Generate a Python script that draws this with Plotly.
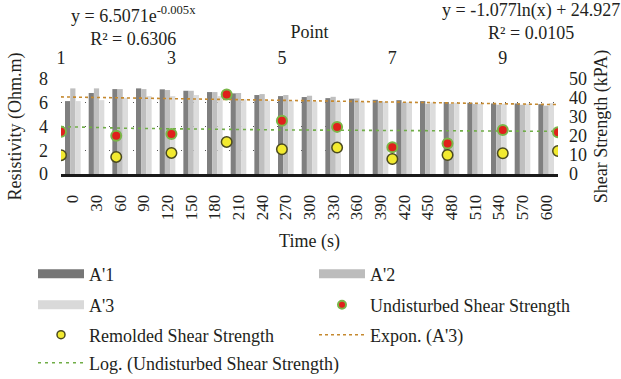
import numpy as np
import plotly.graph_objects as go

# ---------------- data ----------------
time_s = [0, 30, 60, 90, 120, 150, 180, 210, 240, 270, 300, 330, 360, 390, 420, 450, 480, 510, 540, 570, 600]
a1 = [6.14, 6.82, 7.15, 7.21, 7.13, 7.01, 6.90, 6.79, 6.65, 6.56, 6.48, 6.39, 6.34, 6.25, 6.22, 6.14, 6.06, 6.00, 5.94, 5.94, 5.88]
a2 = [7.21, 7.21, 7.15, 7.15, 7.07, 7.01, 6.90, 6.82, 6.73, 6.65, 6.59, 6.50, 6.37, 6.14, 6.03, 5.91, 5.91, 5.89, 5.83, 5.83, 5.75]
a3 = [6.14, 6.22, 6.42, 6.56, 6.56, 6.65, 6.56, 6.28, 6.17, 6.17, 6.11, 6.11, 6.08, 6.08, 6.03, 6.03, 6.00, 5.91, 5.91, 5.91, 5.97]

points = [1, 2, 3, 4, 5, 6, 7, 8, 9, 10]
undisturbed = [22.2, 20.1, 21.0, 41.9, 28.0, 24.8, 14.1, 16.0, 23.1, 22.0]
remolded = [9.9, 9.0, 11.1, 16.9, 13.0, 13.9, 7.9, 10.0, 10.9, 12.1]

point_ticks = [1, 3, 5, 7, 9]

# trendline coefficients (as printed on the chart)
exp_a, exp_b = 6.5071, -0.005
log_a, log_b = -1.077, 24.927

FONT = "Liberation Serif"
TXT = "#231f20"
C1, C2, C3 = "#7f7f7f", "#bfbfbf", "#dcdcdc"

W, H = 621, 379
ML, MR, MT, MB = 61, 63, 79, 205
PW, PH = W - ML - MR, H - MT - MB

idx = list(range(len(time_s)))

fig = go.Figure()

for name, vals, col in [("A'1", a1, C1), ("A'2", a2, C2), ("A'3", a3, C3)]:
    fig.add_trace(go.Bar(x=idx, y=vals, name=name, marker=dict(color=col, line=dict(width=0)),
                         showlegend=False))

# exponential trendline of A'3 (Excel x = category index + 1)
k = np.linspace(0.5, len(time_s) + 0.5, 200)
fig.add_trace(go.Scatter(x=k - 1, y=exp_a * np.exp(exp_b * k), mode="lines",
                         line=dict(color="#c5892f", width=1.6, dash="3px,3px"),
                         name="Expon. (A'3)", showlegend=False, hoverinfo="skip"))

# log trendline of undisturbed shear strength (secondary axes)
p = np.linspace(points[0], points[-1], 200)
fig.add_trace(go.Scatter(x=p, y=log_a * np.log(p) + log_b, mode="lines", xaxis="x2", yaxis="y2",
                         line=dict(color="#70ad47", width=1.6, dash="3px,4px"),
                         name="Log. (Undisturbed Shear Strength)", showlegend=False, hoverinfo="skip"))

fig.add_trace(go.Scatter(x=points, y=undisturbed, mode="markers", xaxis="x2", yaxis="y2",
                         marker=dict(size=10, color="#e0201b", line=dict(color="#7ab648", width=2)),
                         name="Undisturbed Shear Strength", showlegend=False))
fig.add_trace(go.Scatter(x=points, y=remolded, mode="markers", xaxis="x2", yaxis="y2",
                         marker=dict(size=10.5, color="#f2ea30", line=dict(color="#4a4a20", width=1.5)),
                         name="Remolded Shear Strength", showlegend=False))

# legend-only entries, one legend per entry so each can be placed exactly
legends = {}

def legcfg(xpx, ypx):
    return dict(xref="paper", yref="paper", x=(xpx - ML) / PW, y=(MT + PH - ypx) / PH,
                xanchor="left", yanchor="middle", itemwidth=46,
                font=dict(family=FONT, size=18, color=TXT), bgcolor="rgba(0,0,0,0)",
                borderwidth=0)

def leg_line(name, color, width, dash, lg, xpx, ypx):
    fig.add_trace(go.Scatter(x=[None], y=[None], mode="lines", name=name, legend=lg,
                             line=dict(color=color, width=width, dash=dash)))
    legends[lg] = legcfg(xpx, ypx)

def leg_marker(name, color, lcolor, lw, size, lg, xpx, ypx):
    fig.add_trace(go.Scatter(x=[None], y=[None], mode="markers", name=name, legend=lg,
                             marker=dict(size=size, color=color, line=dict(color=lcolor, width=lw))))
    legends[lg] = legcfg(xpx, ypx)

XL, XR = 33, 314
leg_line("A'1", "#767676", 9, "solid", "legend", XL, 274)
leg_line("A'2", "#bcbcbc", 9, "solid", "legend2", XR, 274)
leg_line("A'3", "#d9d9d9", 9, "solid", "legend3", XL, 305)
leg_marker("Undisturbed Shear Strength", "#e0201b", "#7ab648", 2, 8, "legend4", XR, 305)
leg_marker("Remolded Shear Strength", "#f2ea30", "#4a4a20", 1.5, 8, "legend5", XL, 335)
leg_line("Expon. (A'3)", "#c5892f", 1.6, "3px,3px", "legend6", XR, 335)
leg_line("Log. (Undisturbed Shear Strength)", "#70ad47", 1.6, "3px,4px", "legend7", XL, 363)

fig.update_layout(
    width=W, height=H,
    margin=dict(l=ML, r=MR, t=MT, b=MB, autoexpand=False),
    paper_bgcolor="white", plot_bgcolor="white",
    font=dict(family=FONT, size=17, color=TXT),
    barmode="group", bargap=0.34, bargroupgap=0,
    xaxis=dict(range=[-0.5, len(time_s) - 0.5], tickvals=idx, ticktext=[str(t) for t in time_s],
               tickangle=-90, showgrid=False, showline=True, linecolor="#1a1a1a", linewidth=3,
               ticks="", ticklabelstandoff=11, tickfont=dict(size=17),
               title=dict(text="Time (s)", standoff=16, font=dict(size=18))),
    xaxis2=dict(overlaying="x", side="top", range=[points[0], points[-1]], tickvals=point_ticks,
                showgrid=False, showline=False, ticks="", zeroline=False, ticklabelstandoff=10,
                tickfont=dict(size=18),
                title=dict(text="Point", standoff=5, font=dict(size=18))),
    yaxis=dict(range=[0, 8], dtick=2, showgrid=True, gridcolor="#555", griddash="1px,11px",
               gridwidth=1, zeroline=False, showline=False, ticks="", ticklabelstandoff=12,
               tickfont=dict(size=18),
               title=dict(text="Resistivity (Ohm.m)", standoff=12, font=dict(size=18))),
    yaxis2=dict(overlaying="y", side="right", range=[0, 50], dtick=10, showgrid=False,
                zeroline=False, showline=False, ticks="", ticklabelstandoff=10,
                tickfont=dict(size=18),
                title=dict(text="Shear Strength (kPA)", standoff=8, font=dict(size=18))),
    showlegend=True,
    **legends,
)

fig.add_annotation(xref="paper", yref="paper", x=(133 - ML) / PW, y=1 + (MT - 26) / PH,
                   text="y = 6.5071e<sup>-0.005x</sup><br>R² = 0.6306", showarrow=False,
                   font=dict(family=FONT, size=18, color=TXT), align="center",
                   xanchor="center", yanchor="middle")
fig.add_annotation(xref="paper", yref="paper", x=(531 - ML) / PW, y=1 + (MT - 22) / PH,
                   text="y = -1.077ln(x) + 24.927<br>R² = 0.0105", showarrow=False,
                   font=dict(family=FONT, size=18, color=TXT), align="center",
                   xanchor="center", yanchor="middle")

fig.write_html("out.html")
